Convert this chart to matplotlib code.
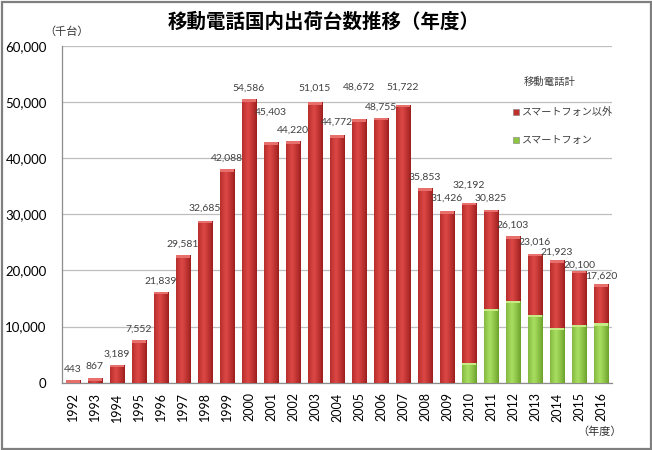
import matplotlib
matplotlib.use('Agg')
import matplotlib.pyplot as plt
import numpy as np
from matplotlib.patches import Rectangle
from matplotlib.colors import to_rgb

# ---------------- data ----------------
years = [str(y) for y in range(1992, 2017)]
# bar heights as drawn in the chart (thousand units)
total_bar = [440, 780, 3150, 7540, 16150, 22680, 28860, 38000, 50470, 42810,
             42990, 49940, 44060, 46910, 47150, 49520, 34620, 30520, 32070,
             30760, 26070, 22980, 21790, 19950, 17520]
smartphone = [0] * 18 + [3560, 13120, 14550, 12050, 9800, 10330, 10570]
other = [t - s for t, s in zip(total_bar, smartphone)]
# data label texts (totals)
label_values = [443, 867, 3189, 7552, 21839, 29581, 32685, 42088, 54586, 45403,
                44220, 51015, 44772, 48672, 48755, 51722, 35853, 31426, 32192,
                30825, 26103, 23016, 21923, 20100, 17620]
# vertical nudge of each label above its bar top (pixels)
label_nudge = [11, 12, 11, 11, 11, 11, 12, 11, 11, 30, 11, 14, 13, 32, 11, 17,
               11, 13, 17, 12, 11, 11, 8, 5, 8]
yticks = [0, 10000, 20000, 30000, 40000, 50000, 60000]

title = '移動電話国内出荷台数推移（年度）'
legend_title = '移動電話計'
series_names = ['スマートフォン以外', 'スマートフォン']
unit_y = '（千台）'
unit_x = '（年度）'

# ---------------- style ----------------
W, H, DPI = 652, 450, 100
JP = ['Noto Sans CJK JP', 'DejaVu Sans']
NUM = ['Lato', 'Noto Sans CJK JP', 'DejaVu Sans']
plt.rcParams['font.family'] = NUM

fig = plt.figure(figsize=(W / DPI, H / DPI), dpi=DPI)
ax = fig.add_axes([62 / W, 1 - 382.7 / H, (612 - 62) / W, (382.7 - 45.7) / H])

x = np.arange(len(years))
bw = 0.64
red_edge, red_mid = '#9A1C1C', '#DC4845'
grn_edge, grn_mid = '#6A9F28', '#A8DE60'


def grad_img(edge, mid):
    e = np.array(to_rgb(edge))
    m = np.array(to_rgb(mid))
    t = np.linspace(0, 1, 64)
    # light band slightly left of centre
    w = np.clip(1 - np.abs(t - 0.4) / 0.6, 0, 1) ** 0.8
    img = e[None, :] * (1 - w[:, None]) + m[None, :] * w[:, None]
    return img[None, :, :]


red_img = grad_img(red_edge, red_mid)
grn_img = grad_img(grn_edge, grn_mid)

ax.set_xlim(-0.5, len(years) - 0.5)
ax.set_ylim(0, 60000)
px_per_unit = (382.7 - 45.7) / 60000.0
cap_h = 2.4 / px_per_unit

bars_g = ax.bar(x, smartphone, bw, color='none', zorder=3)
bars_r = ax.bar(x, other, bw, bottom=smartphone, color='none', zorder=3)


def fill_bars(bars, img, cap_color):
    for b in bars:
        h = b.get_height()
        if h <= 0:
            continue
        x0, y0, w = b.get_x(), b.get_y(), b.get_width()
        im = ax.imshow(img, extent=[x0, x0 + w, y0, y0 + h], aspect='auto',
                       zorder=3, interpolation='bilinear')
        im.set_clip_path(b)
        ch = min(cap_h, h)
        ax.add_patch(Rectangle((x0, y0 + h - ch), w, ch, facecolor=cap_color,
                               edgecolor='none', zorder=4))


fill_bars(bars_g, grn_img, '#C6EA86')
fill_bars(bars_r, red_img, '#E8706C')

# data labels
for xi, top, val, nd in zip(x, total_bar, label_values, label_nudge):
    ax.annotate(f'{val:,}', (xi, top), xytext=(0, nd * 72 / DPI),
                textcoords='offset points', ha='center', va='center',
                fontsize=7.5, color='#404040', zorder=6)

# axes styling
ax.set_yticks(yticks)
ax.set_yticklabels([f'{v:,}' for v in yticks], fontsize=9.5)
ax.set_xticks(x)
ax.set_xticklabels(years, rotation=90, fontsize=9)
ax.tick_params(axis='y', length=0, pad=11)
ax.tick_params(axis='x', length=0, pad=7)
ax.grid(axis='y', color='#BEBEBE', linewidth=0.9, zorder=0)
ax.set_axisbelow(True)
for s in ['top', 'right']:
    ax.spines[s].set_visible(False)
for s in ['left', 'bottom']:
    ax.spines[s].set_color('#8C8C8C')
    ax.spines[s].set_linewidth(0.9)

# titles and units
fig.text(324 / W, 1 - 22 / H, title, ha='center', va='center', fontsize=14,
         fontweight='bold', family=JP)
fig.text(67 / W, 1 - 32 / H, unit_y, ha='center', va='center', fontsize=8,
         family=JP, color='#333333')
fig.text(600 / W, 1 - 432 / H, unit_x, ha='center', va='center', fontsize=8,
         family=JP, color='#333333')

# legend
fig.text(550 / W, 1 - 82 / H, legend_title, ha='center', va='center',
         fontsize=7.5, family=JP, color='#404040')
for i, (name, col) in enumerate(zip(series_names, ['#C0302C', '#8CC63F'])):
    yc = 112 + 28 * i
    fig.add_artist(Rectangle(((513) / W, 1 - (yc + 3) / H), 6 / W, 6 / H,
                             transform=fig.transFigure, facecolor=col,
                             edgecolor='#7F7F7F', linewidth=0.4))
    fig.text(522 / W, 1 - yc / H, name, ha='left', va='center', fontsize=7.3,
             family=JP, color='#404040')

# figure border
fig.add_artist(Rectangle((1.5 / W, 1.5 / H), 1 - 3 / W, 1 - 3 / H,
                         transform=fig.transFigure, facecolor='none',
                         edgecolor='#7F7F7F', linewidth=1.6))

fig.savefig('out.png', dpi=DPI)
